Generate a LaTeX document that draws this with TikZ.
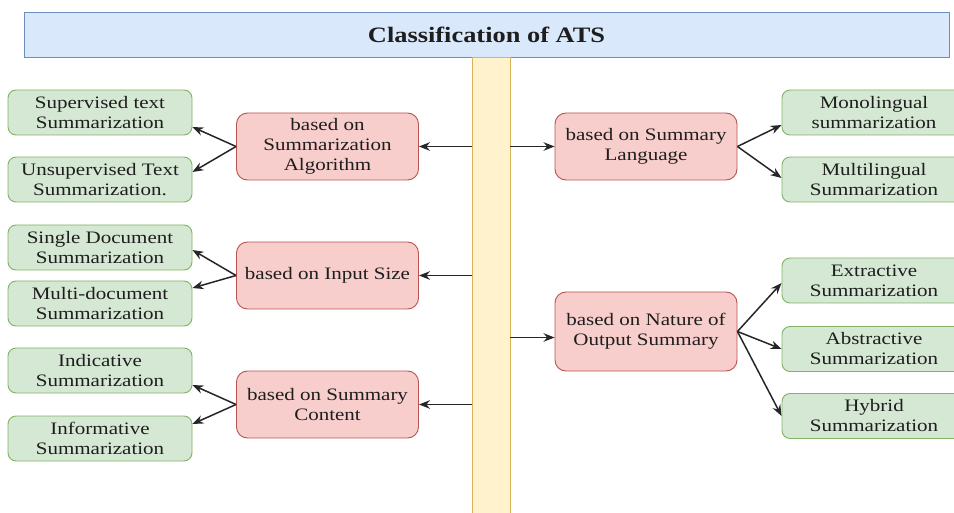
\documentclass[tikz,border=0pt]{standalone}
\usepackage{fontspec}
\setmainfont{Liberation Serif}[FakeStretch=1.2]
\usetikzlibrary{arrows.meta}

\definecolor{leafFill}{HTML}{D5E8D4}
\definecolor{leafLine}{HTML}{82B366}
\definecolor{groupFill}{HTML}{F8CECC}
\definecolor{groupLine}{HTML}{B85450}
\definecolor{titleFill}{HTML}{DAE8FC}
\definecolor{titleLine}{HTML}{6C8EBF}
\definecolor{spineFill}{HTML}{FFF2CC}
\definecolor{spineLine}{HTML}{D6B656}
\definecolor{textGray}{HTML}{1E1E1E}

\begin{document}
\begin{tikzpicture}[x=1pt, y=-1pt, ->, >={Stealth[length=11pt,width=8.5pt]},
    box/.style={draw, line width=0.9pt, align=center, inner sep=0pt, text=textGray,
                font=\fontsize{17.5}{20}\selectfont},
    leaf/.style={box, fill=leafFill, draw=leafLine, rounded corners=8pt,
                 minimum width=184pt, minimum height=45pt},
    group/.style={box, fill=groupFill, draw=groupLine, rounded corners=11pt,
                  minimum width=182pt, minimum height=67pt},
    link/.style={draw=black!85, line width=1.5pt}]

    \useasboundingbox (0,0) rectangle (954,513);
    \clip (0,0) rectangle (954,513);

    % title and spine
    \node[box, fill=titleFill, draw=titleLine, minimum width=925pt, minimum height=45pt,
          font=\bfseries\fontsize{22}{26}\selectfont] (title) at (486.5,34.5) {Classification of ATS};
    \node[box, fill=spineFill, draw=spineLine, minimum width=38pt, minimum height=460pt] (spine) at (491,287) {};

    % --- criteria ---
    \node[group] (alg)  at (327.5,146.5) {based on\\Summarization\\Algorithm};
    \node[group] (inp)  at (327.5,275.5) {based on Input Size};
    \node[group] (cont) at (327.5,404.5) {based on Summary\\Content};
    \node[group] (lang) at (646,146.5)   {based on Summary\\Language};
    \node[group, minimum height=79pt] (nat) at (646,331.5) {based on Nature of\\Output Summary};

    % --- left leaves ---
    \foreach \name/\y/\txt in {sup/112.5/{Supervised text\\Summarization},
                               unsup/179.5/{Unsupervised Text\\Summarization.},
                               single/247.5/{Single Document\\Summarization},
                               multi/303.5/{Multi-document\\Summarization},
                               indic/370.5/{Indicative\\Summarization},
                               inform/438.5/{Informative\\Summarization}} {%
        \node[leaf] (\name) at (100,\y) {\txt};%
    }

    % --- right leaves ---
    \foreach \name/\y/\txt in {mono/112.5/{Monolingual\\summarization},
                               multil/179.5/{Multilingual\\Summarization},
                               extr/280.5/{Extractive\\Summarization},
                               abstr/349/{Abstractive\\Summarization},
                               hyb/416/{Hybrid\\Summarization}} {%
        \node[leaf] (\name) at (874,\y) {\txt};%
    }

    % spine to criteria
    \draw[link] (spine.west |- alg)  -- (alg.east);
    \draw[link] (spine.west |- inp)  -- (inp.east);
    \draw[link] (spine.west |- cont) -- (cont.east);
    \draw[link] (spine.east |- lang) -- (lang.west);
    \draw[link] ([yshift=-6pt]spine.east |- nat.west) -- ([yshift=-6pt]nat.west);

    % criteria to leaves
    \foreach \src/\dst/\dy in {alg/sup/-14.5, alg/unsup/7.5, inp/single/-2.5,
                               inp/multi/15.5, cont/indic/-14.5, cont/inform/14.5} {%
        \draw[link] (\src.west) -- ([yshift=\dy pt]\dst.east);%
    }
    \foreach \src/\dst/\dy in {lang/mono/-12.5, lang/multil/1.5, nat/extr/-2.5,
                               nat/abstr/0, nat/hyb/0} {%
        \draw[link] (\src.east) -- ([yshift=\dy pt]\dst.west);%
    }

\end{tikzpicture}
\end{document}
